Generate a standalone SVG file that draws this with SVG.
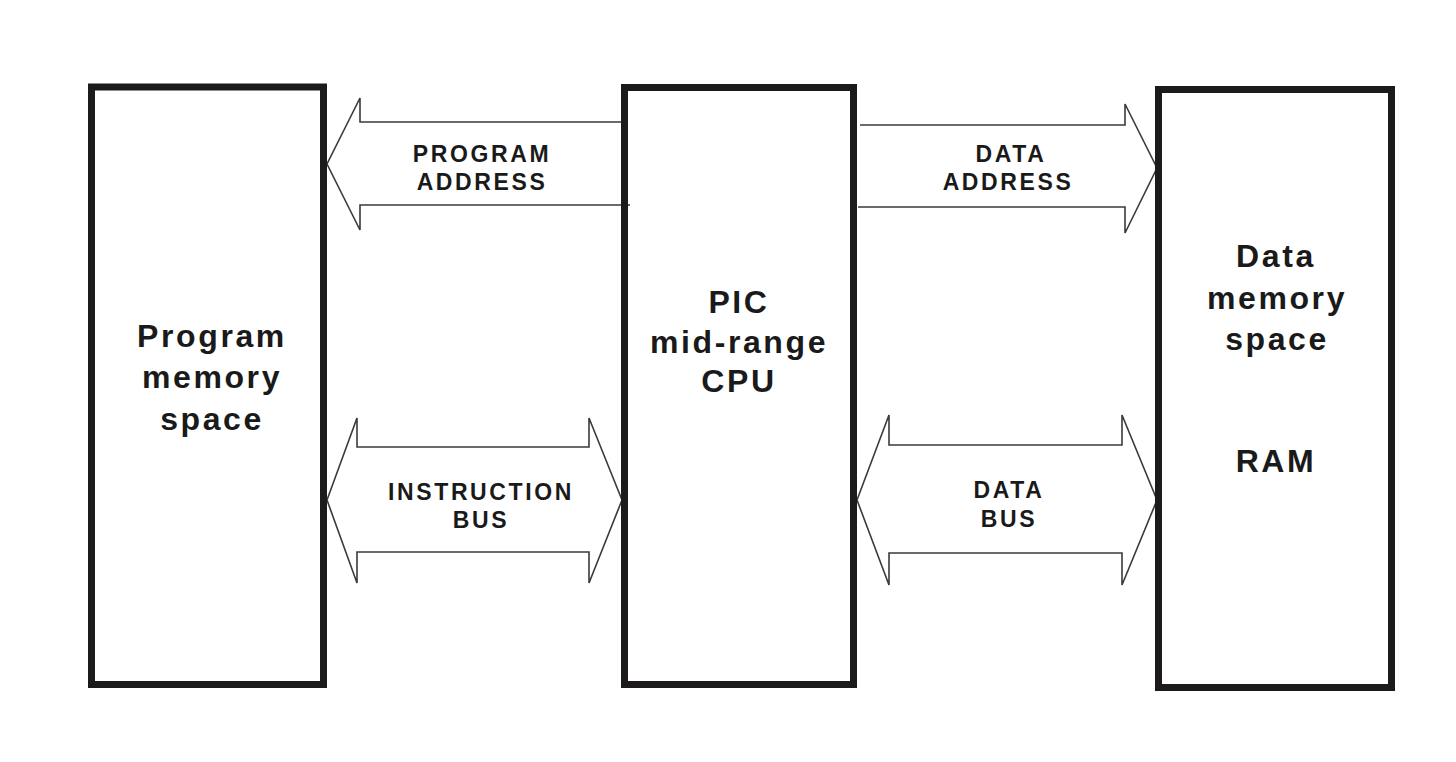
<svg xmlns="http://www.w3.org/2000/svg" width="1456" height="762" viewBox="0 0 1456 762">
<style>
.box{fill:none;stroke:#1c1a1b;stroke-width:7}
.bus{fill:#fff;stroke:#3a3a3a;stroke-width:1.6;stroke-linejoin:miter}
.big{font-family:"Liberation Sans",Arial,sans-serif;font-weight:bold;font-size:32px;letter-spacing:2.6px;fill:#1a1a1a;text-anchor:middle}
.small{font-family:"Liberation Sans",Arial,sans-serif;font-weight:bold;font-size:23px;letter-spacing:2.6px;fill:#1a1a1a;text-anchor:middle}
</style>
<rect width="1456" height="762" fill="#fff"/>
<g id="connectors">
<g id="program-address">
<polyline class="bus" points="628,122 360,122 360,98 327,164 360,230 360,205 630,205"/>
<text class="small" x="482" y="162">PROGRAM</text>
<text class="small" x="482" y="190">ADDRESS</text>
</g>
<g id="data-address">
<polyline class="bus" points="860,125 1125,125 1125,104 1157,168 1125,233 1125,207 858,207"/>
<text class="small" x="1011" y="162">DATA</text>
<text class="small" x="1008" y="190">ADDRESS</text>
</g>
<g id="instruction-bus">
<polygon class="bus" points="327,500 357,418 357,447 589,447 589,418 622,500 589,583 589,552 357,552 357,583"/>
<text class="small" x="481" y="500">INSTRUCTION</text>
<text class="small" x="481" y="528">BUS</text>
</g>
<g id="data-bus">
<polygon class="bus" points="857,500 889,415 889,445 1122,445 1122,415 1157,500 1122,585 1122,553 889,553 889,585"/>
<text class="small" x="1009" y="498">DATA</text>
<text class="small" x="1009" y="527">BUS</text>
</g>
</g>
<g id="program-memory">
<rect class="box" x="91.5" y="87" width="232" height="597.5"/>
<text class="big" x="212" y="347">Program</text>
<text class="big" x="212" y="388">memory</text>
<text class="big" x="212" y="430">space</text>
</g>
<g id="cpu">
<rect class="box" x="624.5" y="87.5" width="229" height="597"/>
<text class="big" x="739" y="313">PIC</text>
<text class="big" x="739" y="353">mid-range</text>
<text class="big" x="739" y="392">CPU</text>
</g>
<g id="data-memory">
<rect class="box" x="1158.5" y="89.5" width="233" height="598"/>
<text class="big" x="1276" y="267">Data</text>
<text class="big" x="1277" y="309">memory</text>
<text class="big" x="1277" y="350">space</text>
<text class="big" x="1276" y="472">RAM</text>
</g>
</svg>
